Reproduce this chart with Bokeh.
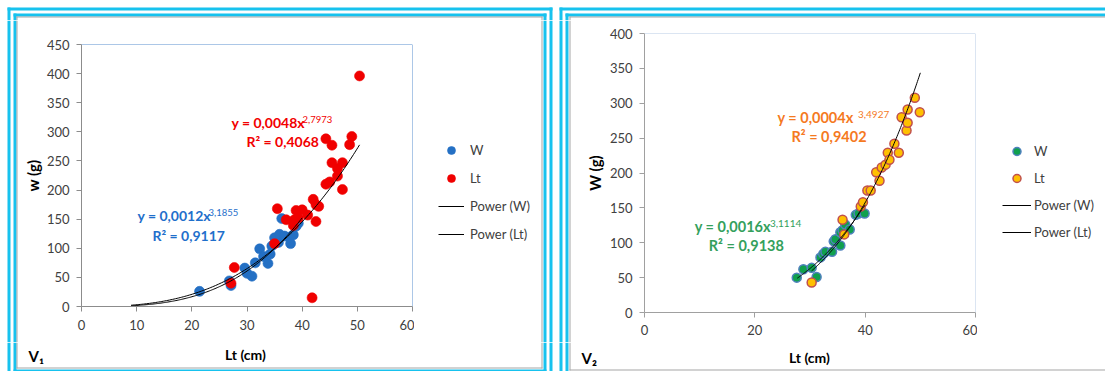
import numpy as np
from bokeh.plotting import figure
from bokeh.models import Range1d, FixedTicker, Label, Legend, Span
from bokeh.layouts import row, column
from bokeh.embed import file_html
from bokeh.resources import INLINE

FONT = "Lato"
CYAN = "#17c2ee"
GREY = "#a6a6a6"

# ---------------- V1 (left chart) ----------------
v1_w_len = [21.4, 26.8, 27.1, 29.6, 30.0, 30.9, 31.5, 32.3, 33.0, 33.8, 34.2,
            34.5, 35.0, 35.7, 35.9, 36.3, 36.8, 37.7, 37.9, 38.4, 38.9, 39.3]
v1_w_wt = [26, 44, 36, 66, 57, 52, 75, 99, 86, 74, 90,
           104, 118, 110, 124, 151, 121, 119, 108, 123, 138, 143]
v1_lt_len = [27.1, 27.7, 35.0, 35.5, 37.1, 38.4, 38.6, 38.9, 39.3, 40.0, 41.0, 41.8,
             42.0, 42.5, 42.5, 43.0, 44.3, 44.3, 45.0, 45.4, 45.4, 46.4, 46.4, 47.3,
             47.3, 48.6, 49.0, 50.4]
v1_lt_wt = [40, 67, 108, 168, 149, 139, 149, 165, 152, 166, 157, 15,
            184, 146, 175, 172, 210, 288, 214, 277, 247, 237, 224, 247,
            201, 278, 292, 396]
v1_x_ticks = [0, 10, 20, 30, 40, 50, 60]
v1_y_ticks = [0, 50, 100, 150, 200, 250, 300, 350, 400, 450]
v1_fit_w = [0.0012, 3.1855]
v1_fit_lt = [0.0048, 2.7973]
v1_span_w = [9, 40]
v1_span_lt = [9, 50.4]
v1_eq_w = ["y = 0,0012x", "3,1855", "R² = 0,9117"]
v1_eq_lt = ["y = 0,0048x", "2,7973", "R² = 0,4068"]

# ---------------- V2 (right chart) ----------------
v2_w_len = [27.6, 28.8, 30.3, 31.2, 31.9, 32.4, 32.8, 34.0, 34.3, 34.6, 35.5,
            35.5, 35.9, 36.4, 37.2, 38.3, 38.8, 39.9]
v2_w_wt = [50, 62, 64, 51, 79, 84, 87, 87, 102, 105, 96,
           115, 118, 126, 119, 140, 142, 142]
v2_lt_len = [30.3, 35.9, 36.2, 39.2, 39.6, 40.4, 41.0, 42.0, 42.6, 43.0, 43.7,
             44.1, 44.4, 45.3, 46.1, 46.6, 47.5, 47.7, 47.7, 49.0, 49.9]
v2_lt_wt = [43, 133, 112, 152, 158, 175, 175, 201, 189, 208, 212,
            229, 219, 242, 229, 280, 261, 272, 291, 308, 287]
v2_x_ticks = [0, 20, 40, 60]
v2_y_ticks = [0, 50, 100, 150, 200, 250, 300, 350, 400]
v2_fit_w = [0.0016, 3.1114]
v2_fit_lt = [0.0004, 3.4927]
v2_span_w = [27.7, 40]
v2_span_lt = [30.3, 50]
v2_eq_w = ["y = 0,0016x", "3,1114", "R² = 0,9138"]
v2_eq_lt = ["y = 0,0004x", "3,4927", "R² = 0,9402"]

legend_names = ["W", "Lt", "Power (W)", "Power (Lt)"]
x_title = "Lt (cm)"

H = 371          # page height
TOP = 20         # height of top strip
BOT = 29         # height of bottom strip
LEFT = 20        # width of left strip
MID = H - TOP - BOT


def power_curve(fit, span):
    xs = np.linspace(span[0], span[1], 150)
    return xs, fit[0] * xs ** fit[1]


def no_align(f):
    try:
        f.frame_align = False
    except AttributeError:
        pass


def txt(p, fl, fb, cx, cy, s, size, color, bold=False, align="left"):
    # cx, cy: page pixel position; fl, fb: page position of the frame's left / bottom
    p.add_layout(Label(x=cx - fl, y=fb - cy, x_units="screen", y_units="screen", text=s,
                       text_font=FONT, text_font_size=f"{size}px", text_color=color,
                       text_font_style="bold" if bold else "normal",
                       text_align=align, text_baseline="middle"))


def blank_fig(w, h, x0, y0, bands):
    # a plain drawing area covering page pixels x0..x0+w, y0..y0+h (y downwards)
    f = figure(frame_width=w, frame_height=h, x_range=Range1d(x0, x0 + w),
               y_range=Range1d(y0 + h, y0), output_backend="svg", toolbar_location=None,
               min_border=0, x_axis_location=None, y_axis_location=None)
    no_align(f)
    f.outline_line_color = None
    f.background_fill_color = None
    f.border_fill_color = None
    f.grid.visible = False
    for (l, t, r, b, c) in bands:
        L, R = max(l, x0), min(r, x0 + w)
        T, B = max(t, y0), min(b, y0 + h)
        if L < R and T < B:
            f.quad(left=L, right=R, top=T, bottom=B, fill_color=c, line_color=None)
    return f


def main_fig(w, bl, br, bt, bb, xmax, ymax, xticks, yticks, axis_col, frame_col,
             x_standoff, y_standoff, ylab, ylab_off):
    p = figure(width=w, height=MID, x_range=Range1d(0, xmax), y_range=Range1d(0, ymax),
               output_backend="svg", toolbar_location=None,
               min_border_left=bl, min_border_right=br,
               min_border_top=bt, min_border_bottom=bb)
    no_align(p)
    p.outline_line_color = None
    p.grid.visible = False
    p.background_fill_color = "white"
    p.border_fill_color = None
    p.xaxis.ticker = FixedTicker(ticks=xticks)
    p.yaxis.ticker = FixedTicker(ticks=yticks)
    for ax in (p.xaxis, p.yaxis):
        ax.minor_tick_line_color = None
        ax.major_tick_in = 0
        ax.major_tick_out = 5
        ax.axis_line_color = axis_col
        ax.major_tick_line_color = axis_col
        ax.major_label_text_font = FONT
        ax.major_label_text_font_size = "13px"
        ax.major_label_text_color = "#404040"
    p.xaxis.major_label_standoff = x_standoff
    p.yaxis.major_label_standoff = y_standoff
    p.yaxis.axis_label = ylab
    p.yaxis.axis_label_text_font = FONT
    p.yaxis.axis_label_text_font_style = "bold"
    p.yaxis.axis_label_text_color = "black"
    p.yaxis.axis_label_text_font_size = "15px"
    p.yaxis.axis_label_standoff = ylab_off
    p.add_layout(Span(location=ymax, dimension="width", line_color=frame_col, line_width=1))
    p.add_layout(Span(location=xmax, dimension="height", line_color=frame_col, line_width=1))
    return p


def legend_fig(w, x0, bands, series, sty_w, sty_lt, size, loc, gw, standoff, spacing):
    # legend drawing area; its renderers reuse the series, which fall outside its view
    f = blank_fig(w, MID, x0, TOP, bands)
    (wx, wy), (lx, ly), (cwx, cwy), (clx, cly) = series
    r_w = f.scatter(wx, wy, size=size, **sty_w)
    r_lt = f.scatter(lx, ly, size=size, **sty_lt)
    l_w = f.line(cwx, cwy, line_color="black", line_width=1)
    l_lt = f.line(clx, cly, line_color="black", line_width=1)
    leg = Legend(items=[(legend_names[0], [r_w]), (legend_names[1], [r_lt]),
                        (legend_names[2], [l_w]), (legend_names[3], [l_lt])],
                 location=loc, padding=0, margin=0, spacing=spacing,
                 glyph_width=gw, glyph_height=20, label_height=20, label_standoff=standoff,
                 label_text_font=FONT, label_text_font_size="13px", label_text_color="#404040",
                 background_fill_alpha=0, border_line_color=None)
    f.add_layout(leg)
    return f


# =============== left panel (page x 0..555) ===============
W1 = 555
bands1 = [  # double cyan frame + thin grey inner frame (page pixels)
    (7, 7, 552, 10, CYAN), (7, 7, 10, 380, CYAN), (549, 7, 552, 380, CYAN),
    (13, 13, 546, 16, CYAN), (13, 13, 16, 380, CYAN), (543, 13, 546, 380, CYAN),
    (13, 369, 546, 380, CYAN),
    (16, 16, 542, 17, GREY), (16, 16, 17, 368, GREY), (541, 16, 542, 368, GREY),
    (16, 367, 542, 368, GREY),
]
M1 = 394
m1 = main_fig(M1, 57, 2, 24, 36, 60, 450, v1_x_ticks, v1_y_ticks,
              "#8c8c8c", "#5b8fd0", 8, 7, "w (g)", 2)
sty1_w = dict(fill_color="#2470c4", line_color="#2470c4", line_alpha=0.6)
sty1_lt = dict(fill_color="#f00000", line_color="#f00000", line_alpha=0.6)
m1.scatter(v1_w_len, v1_w_wt, size=10, **sty1_w)
m1.scatter(v1_lt_len, v1_lt_wt, size=10, **sty1_lt)
xw, yw = power_curve(v1_fit_w, v1_span_w)
xl, yl = power_curve(v1_fit_lt, v1_span_lt)
m1.line(xw, yw, line_color="black", line_width=1)
m1.line(xl, yl, line_color="black", line_width=1)
fl1, fb1 = 77, 306
blue_t, red_t = "#1f6fcb", "#f20000"
txt(m1, fl1, fb1, 133, 214.5, v1_eq_w[0], 14, blue_t, bold=True)
txt(m1, fl1, fb1, 204, 211.5, v1_eq_w[1], 9.5, blue_t)
txt(m1, fl1, fb1, 148, 234.5, v1_eq_w[2], 14, blue_t, bold=True)
txt(m1, fl1, fb1, 227, 121.5, v1_eq_lt[0], 14, red_t, bold=True)
txt(m1, fl1, fb1, 298, 118.5, v1_eq_lt[1], 9.5, red_t)
txt(m1, fl1, fb1, 242, 141, v1_eq_lt[2], 14, red_t, bold=True)

g1x = LEFT + M1
g1 = legend_fig(W1 - g1x, g1x, bands1,
                [(v1_w_len, v1_w_wt), (v1_lt_len, v1_lt_wt), (xw, yw), (xl, yl)],
                sty1_w, sty1_lt, 10, (438 - g1x, TOP + MID - 244), 26, 6, 8)
t1 = blank_fig(W1, TOP, 0, 0, bands1)
l1 = blank_fig(LEFT, MID, 0, TOP, bands1)
s1 = blank_fig(W1, BOT, 0, H - BOT, bands1)
txt(s1, 0, H, 28, 355, "V₁", 15, "black", bold=True)
txt(s1, 0, H, 245, 354, x_title, 14, "black", bold=True, align="center")
panel1 = column(t1, row(l1, m1, g1), s1)

# =============== right panel (page x 555..1105, local pixels) ===============
OFF = 555
W2 = 550
bands2 = [
    (4, 7, 700, 10, CYAN), (4, 7, 7, 380, CYAN),
    (10, 13, 700, 16, CYAN), (10, 13, 13, 380, CYAN),
    (14, 16, 700, 17, GREY), (14, 16, 15, 370, GREY), (14, 369, 700, 370, GREY),
]
M2 = 402
m2 = main_fig(M2, 69, 2, 13, 30, 60, 400, v2_x_ticks, v2_y_ticks,
              "#a0a0a0", "#b7cbe6", 7, 7, "W (g)", 3)
sty2_w = dict(fill_color="#10a04e", line_color="#4f81bd", line_width=1.5)
sty2_lt = dict(fill_color="#ffc000", line_color="#c0504d", line_width=1.5)
m2.scatter(v2_w_len, v2_w_wt, size=9, **sty2_w)
m2.scatter(v2_lt_len, v2_lt_wt, size=9, **sty2_lt)
xw2, yw2 = power_curve(v2_fit_w, v2_span_w)
xl2, yl2 = power_curve(v2_fit_lt, v2_span_lt)
m2.line(xw2, yw2, line_color="black", line_width=1)
m2.line(xl2, yl2, line_color="black", line_width=1)
fl2, fb2 = 644, 312
orange_t, green_t = "#f57a1f", "#34a05c"
txt(m2, fl2, fb2, 777, 116.7, v2_eq_lt[0], 14.5, orange_t, bold=True)
txt(m2, fl2, fb2, 857.5, 113.5, v2_eq_lt[1], 10, orange_t)
txt(m2, fl2, fb2, 791, 136.3, v2_eq_lt[2], 14.5, orange_t, bold=True)
txt(m2, fl2, fb2, 694.3, 225.7, v2_eq_w[0], 14.5, green_t, bold=True)
txt(m2, fl2, fb2, 769.5, 222.8, v2_eq_w[1], 10, green_t)
txt(m2, fl2, fb2, 708.3, 245, v2_eq_w[2], 14.5, green_t, bold=True)

g2x = LEFT + M2
g2 = legend_fig(W2 - g2x, g2x, bands2,
                [(v2_w_len, v2_w_wt), (v2_lt_len, v2_lt_wt), (xw2, yw2), (xl2, yl2)],
                sty2_w, sty2_lt, 9, (1002 - OFF - g2x, TOP + MID - 242), 29, 3, 7)
t2 = blank_fig(W2, TOP, 0, 0, bands2)
l2 = blank_fig(LEFT, MID, 0, TOP, bands2)
s2 = blank_fig(W2, BOT, 0, H - BOT, bands2)
txt(s2, OFF, H, 581, 357, "V₂", 15, "black", bold=True)
txt(s2, OFF, H, 809, 356.5, x_title, 14, "black", bold=True, align="center")
panel2 = column(t2, row(l2, m2, g2), s2)

layout = row(panel1, panel2)
open("out.html", "w").write(file_html(layout, INLINE))
